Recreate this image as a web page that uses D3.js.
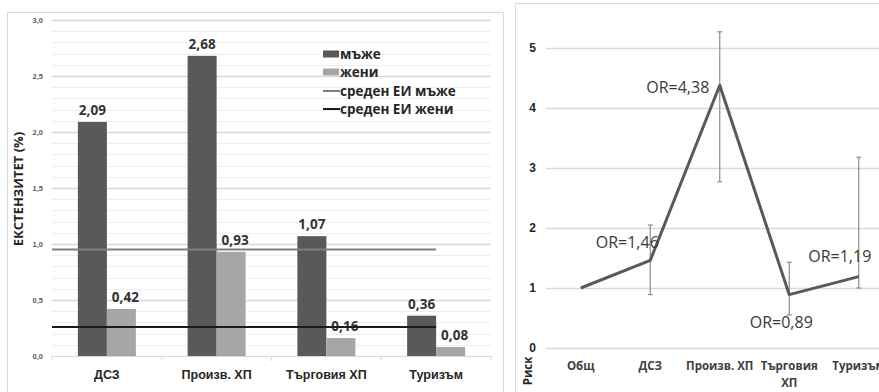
<!DOCTYPE html>
<html><head><meta charset="utf-8">
<script src="https://cdn.jsdelivr.net/npm/d3@7"></script>
<style>
html,body{margin:0;padding:0;background:#fff;overflow:hidden}
svg{display:block;font-family:"Open Sans","Noto Sans",sans-serif}
</style></head>
<body>
<svg id="c" width="879" height="392"></svg>
<script>
// ---- data: left chart ----
const categories = ["ДСЗ", "Произв. ХП", "Търговия ХП", "Туризъм"];
const men = [2.09, 2.68, 1.07, 0.36];
const women = [0.42, 0.93, 0.16, 0.08];
const meanMen = 0.95;
const meanWomen = 0.26;
const leftTicks = [0, 0.5, 1.0, 1.5, 2.0, 2.5, 3.0];
const legendLabels = ["мъже", "жени", "среден ЕИ мъже", "среден ЕИ жени"];
// ---- data: right chart ----
const riskCategories = ["Общ", "ДСЗ", "Произв. ХП", "Търговия ХП", "Туризъм"];
const riskOR = [1.0, 1.46, 4.38, 0.89, 1.19];
const riskLow = [null, 0.89, 2.77, 0.55, 1.0];
const riskHigh = [null, 2.05, 5.27, 1.43, 3.18];
const riskTicks = [0, 1, 2, 3, 4, 5];

const fmt = v => d3.format(".2f")(v).replace(".", ",");
const fmt1 = v => d3.format(".1f")(v).replace(".", ",");
const svg = d3.select("#c");

// ================= LEFT CHART =================
svg.append("rect").attr("x", 7.5).attr("y", 12.5).attr("width", 496).attr("height", 390)
  .attr("fill", "none").attr("stroke", "#d9d9d9");

const x0 = d3.scaleBand().domain(categories).range([52, 491]);
const x1 = d3.scaleBand().domain(["m", "w"]).range([0, 58]);
const y = d3.scaleLinear().domain([0, 3]).range([356, 20]);

// minor gridlines
const L = svg.append("g");
L.selectAll("line.minor").data(d3.range(1, 30).map(i => i / 10).filter(v => Math.abs(v * 2 - Math.round(v * 2)) > 1e-6))
  .join("line").attr("x1", 52).attr("x2", 491)
  .attr("y1", d => Math.round(y(d)) + 0.5).attr("y2", d => Math.round(y(d)) + 0.5)
  .attr("stroke", "#eeeeee").attr("stroke-width", 1.2);
L.selectAll("line.major").data(leftTicks.filter(d => d > 0))
  .join("line").attr("x1", 52).attr("x2", 491)
  .attr("y1", d => Math.round(y(d)) + 0.5).attr("y2", d => Math.round(y(d)) + 0.5)
  .attr("stroke", "#d9d9d9").attr("stroke-width", 1.5);

// y axis labels
const yAx = svg.append("g").attr("transform", "translate(46,0)")
  .call(d3.axisLeft(y).tickValues(leftTicks).tickFormat(fmt1).tickSize(0).tickPadding(3));
yAx.select(".domain").remove();
yAx.selectAll("text").attr("font-size", 7.5).attr("font-weight", "bold").attr("fill", "#595959");

// x axis
const xAx = svg.append("g").attr("transform", "translate(0,356)")
  .call(d3.axisBottom(x0).tickSize(0).tickPadding(14));
xAx.select(".domain").attr("stroke", "#d9d9d9");
xAx.selectAll("text").attr("font-size", 12.5).attr("font-weight", "bold").attr("fill", "#262626");
svg.append("g").selectAll("line").data(d3.range(categories.length + 1))
  .join("line").attr("x1", i => 52 + i * x0.step()).attr("x2", i => 52 + i * x0.step())
  .attr("y1", 356).attr("y2", 361).attr("stroke", "#d9d9d9");

// bars
const groups = svg.append("g").selectAll("g").data(categories).join("g")
  .attr("transform", d => `translate(${x0(d) + (x0.bandwidth() - 58) / 2},0)`);
groups.append("rect").attr("x", x1("m")).attr("width", x1.bandwidth())
  .attr("y", (d, i) => y(men[i])).attr("height", (d, i) => y(0) - y(men[i])).attr("fill", "#595959");
groups.append("rect").attr("x", x1("w")).attr("width", x1.bandwidth())
  .attr("y", (d, i) => y(women[i])).attr("height", (d, i) => y(0) - y(women[i])).attr("fill", "#a6a6a6");

// mean lines
const meanEnd = x0(categories[categories.length - 1]) + x0.bandwidth() / 2;
svg.append("line").attr("x1", 52).attr("x2", meanEnd).attr("y1", y(meanMen)).attr("y2", y(meanMen))
  .attr("stroke", "#7f7f7f").attr("stroke-width", 2);
svg.append("line").attr("x1", 52).attr("x2", meanEnd).attr("y1", y(meanWomen)).attr("y2", y(meanWomen))
  .attr("stroke", "#1a1a1a").attr("stroke-width", 2);

// bar value labels
groups.append("text").attr("x", x1("m") + x1.bandwidth() / 2).attr("y", (d, i) => y(men[i]) - 7)
  .attr("text-anchor", "middle").attr("font-size", 13.5).attr("font-weight", "bold").attr("fill", "#333")
  .text((d, i) => fmt(men[i]));
groups.append("text").attr("x", x1("w") + x1.bandwidth() / 2 + 4).attr("y", (d, i) => y(women[i]) - 7)
  .attr("text-anchor", "middle").attr("font-size", 13.5).attr("font-weight", "bold").attr("fill", "#333")
  .text((d, i) => fmt(women[i]));

// y title
svg.append("text").attr("transform", "translate(23,189) rotate(-90)").attr("text-anchor", "middle")
  .attr("font-size", 13).attr("font-weight", "bold").attr("fill", "#262626").text("ЕКСТЕНЗИТЕТ (%)");

// legend
const leg = svg.append("g").attr("transform", "translate(323,0)");
const legY = [54, 72, 91, 109];
leg.append("rect").attr("x", 0).attr("y", legY[0] - 3.5).attr("width", 16).attr("height", 7).attr("fill", "#595959");
leg.append("rect").attr("x", 0).attr("y", legY[1] - 3.5).attr("width", 16).attr("height", 7).attr("fill", "#a6a6a6");
leg.append("line").attr("x1", 0).attr("x2", 17).attr("y1", legY[2]).attr("y2", legY[2]).attr("stroke", "#7f7f7f").attr("stroke-width", 2);
leg.append("line").attr("x1", 0).attr("x2", 17).attr("y1", legY[3]).attr("y2", legY[3]).attr("stroke", "#1a1a1a").attr("stroke-width", 2);
leg.selectAll("text").data(legendLabels).join("text").attr("x", 17).attr("y", (d, i) => legY[i])
  .attr("dy", "0.35em").attr("font-size", 13.5).attr("font-weight", "bold").attr("fill", "#262626").text(d => d);

// ================= RIGHT CHART =================
svg.append("rect").attr("x", 515.5).attr("y", 3.5).attr("width", 400).attr("height", 400)
  .attr("fill", "none").attr("stroke", "#d9d9d9");

const rx = d3.scaleBand().domain(riskCategories).range([546, 546 + 69.5 * riskCategories.length]);
const ry = d3.scaleLinear().domain([0, 5]).range([348, 48]);
const cx = d => rx(d) + rx.bandwidth() / 2;

svg.append("g").selectAll("line").data(riskTicks).join("line")
  .attr("x1", 546).attr("x2", 879).attr("y1", d => Math.round(ry(d)) + 0.5).attr("y2", d => Math.round(ry(d)) + 0.5)
  .attr("stroke", "#d9d9d9").attr("stroke-width", 1.5);

const ryAx = svg.append("g").attr("transform", "translate(536,0)")
  .call(d3.axisLeft(ry).tickValues(riskTicks).tickFormat(d3.format("d")).tickSize(0).tickPadding(0));
ryAx.select(".domain").remove();
ryAx.selectAll("text").attr("font-size", 12).attr("font-weight", "bold").attr("fill", "#262626");

// category labels (wrapped)
const rxl = svg.append("g").selectAll("text").data(riskCategories).join("text")
  .attr("x", d => cx(d)).attr("y", 370).attr("text-anchor", "middle")
  .attr("font-size", 11.5).attr("font-weight", "bold").attr("fill", "#404040");
rxl.each(function (d) {
  const parts = d === "Търговия ХП" ? ["Търговия", "ХП"] : [d];
  const t = d3.select(this);
  parts.forEach((p, i) => t.append("tspan").attr("x", cx(d)).attr("dy", i ? 17 : 0).text(p));
});

svg.append("text").attr("transform", "translate(532,371) rotate(-90)").attr("text-anchor", "middle")
  .attr("font-size", 11.5).attr("font-weight", "bold").attr("fill", "#262626").text("Риск");

// error bars
const eb = svg.append("g").attr("stroke", "#8c8c8c").attr("stroke-width", 1.2);
riskCategories.forEach((c, i) => {
  if (riskLow[i] == null) return;
  eb.append("line").attr("x1", cx(c)).attr("x2", cx(c)).attr("y1", ry(riskLow[i])).attr("y2", ry(riskHigh[i]));
  eb.append("line").attr("x1", cx(c) - 2.5).attr("x2", cx(c) + 2.5).attr("y1", ry(riskLow[i])).attr("y2", ry(riskLow[i]));
  eb.append("line").attr("x1", cx(c) - 2.5).attr("x2", cx(c) + 2.5).attr("y1", ry(riskHigh[i])).attr("y2", ry(riskHigh[i]));
});

// line
svg.append("path").datum(riskOR)
  .attr("d", d3.line().x((d, i) => cx(riskCategories[i])).y(d => ry(d)))
  .attr("fill", "none").attr("stroke", "#595959").attr("stroke-width", 3).attr("stroke-linejoin", "round");

// OR labels
const labelOffsets = [null, [-23, -18], [-42, 2], [-8, 28], [-19, -20]];
svg.append("g").selectAll("text").data(riskOR.map((v, i) => ({v, i})).filter(d => labelOffsets[d.i]))
  .join("text")
  .attr("x", d => cx(riskCategories[d.i]) + labelOffsets[d.i][0])
  .attr("y", d => ry(d.v) + labelOffsets[d.i][1])
  .attr("dy", "0.35em").attr("text-anchor", "middle")
  .attr("font-size", 16).attr("fill", "#3a3a3a")
  .text(d => "OR=" + fmt(d.v));
</script>
</body></html>
